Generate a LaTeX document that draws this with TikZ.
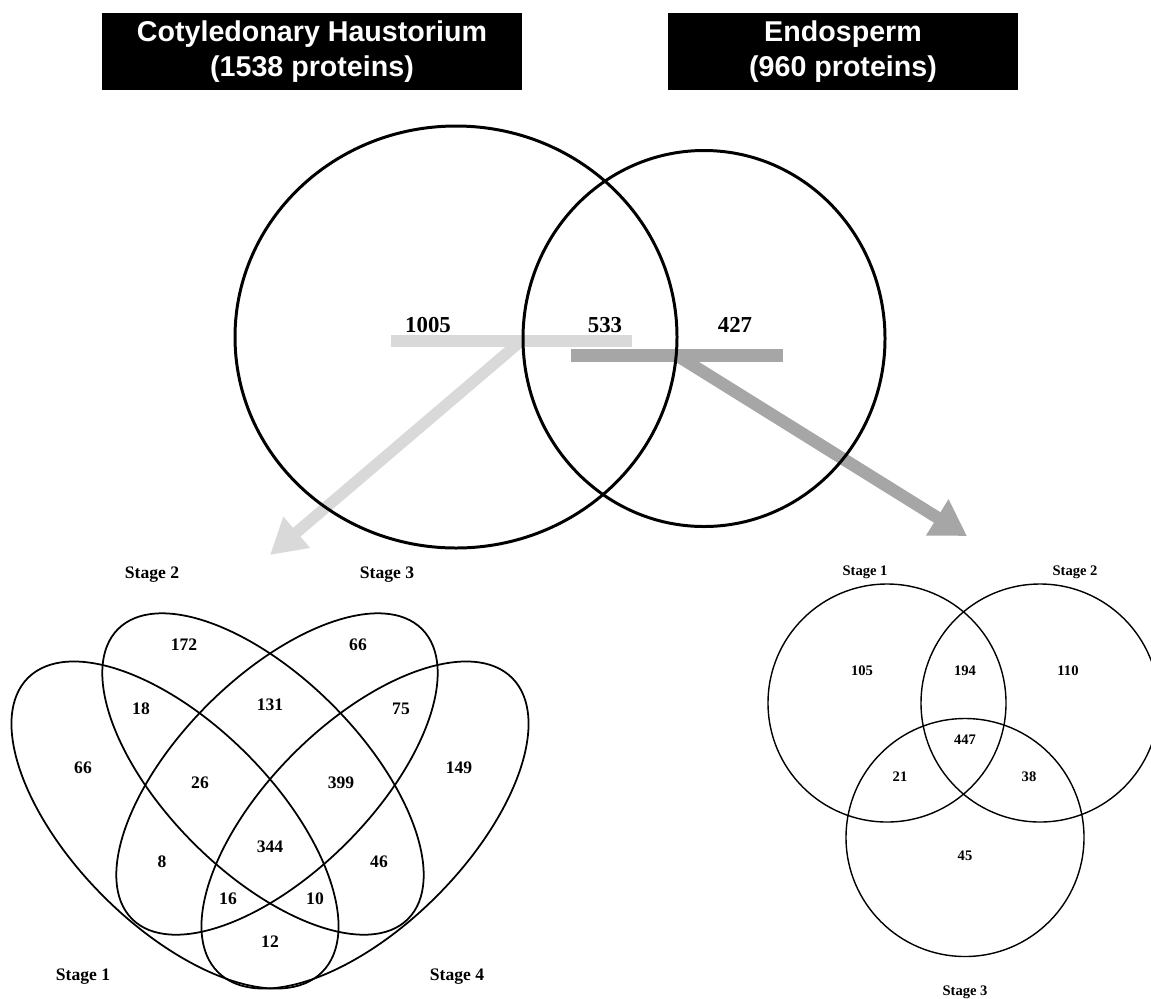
\documentclass[tikz,border=0pt]{standalone}
\usepackage{fontspec}
\setmainfont{Liberation Serif}
\newfontfamily\titlefont{Liberation Sans}
\usepackage{tikz}
\usetikzlibrary{arrows.meta,positioning,calc}
\tikzstyle{titre}=[fill=black, text=white, align=center, inner sep=0pt,
font=\titlefont\bfseries\fontsize{16.3}{19.8}\selectfont,
minimum width=8.4cm, minimum height=1.54cm]
\tikzstyle{bigcount}=[inner sep=0pt, font=\bfseries\fontsize{13}{15}\selectfont]
\tikzstyle{quadcount}=[inner sep=0pt, font=\bfseries\fontsize{10}{12}\selectfont]
\tikzstyle{tricount}=[inner sep=0pt, font=\bfseries\fontsize{8.3}{10}\selectfont]
\tikzstyle{ring}=[draw, line width=1.7pt]
\tikzstyle{oval}=[draw, line width=1pt]
\tikzstyle{disc}=[draw, line width=0.8pt]
\tikzstyle{lightbar}=[draw=black!15, line width=6.5pt]
\tikzstyle{darkbar}=[draw=black!35, line width=7pt]
\newcommand{\bignum}[2]{node (b#1)[bigcount]{#2}}
\newcommand{\quadnum}[2]{node (q#1)[quadcount]{#2}}
\newcommand{\trinum}[2]{node (t#1)[tricount]{#2}}
\begin{document}
\begin{tikzpicture}[x=0.02cm,y=-0.02cm]
		\useasboundingbox (0,0) rectangle (1151,998);
		
		% Title boxes
		\path (312,51.5) node (hau)[titre]{Cotyledonary Haustorium\\(1538 proteins)};
		\path (843,51.5) node (endo)[titre, minimum width=7cm]{Endosperm\\(960 proteins)};
		
		% Grey bars and arrows (below the circles)
		\coordinate (l1) at (391,341);
		\coordinate (l2) at (632,341);
		\coordinate (lj) at (521,341);
		\coordinate (ltip) at (270,555);
		\coordinate (d1) at (571,355.5);
		\coordinate (d2) at (783,355.5);
		\coordinate (dj) at (677,355.5);
		\coordinate (dtip) at (967,536);
		\path [lightbar] (l1) -- (l2);
		\path [lightbar,-{Triangle[length=20pt,width=22pt]}] (lj) -- (ltip);
		\path [darkbar] (d1) -- (d2);
		\path [darkbar,-{Triangle[length=20pt,width=23pt]}] (dj) -- (dtip);
		
		% Main diagram
		\coordinate (ch) at (456,337);
		\coordinate (en) at (704,338.5);
		\draw [ring] (ch) ellipse (221 and 211);
		\draw [ring] (en) ellipse (181 and 188);
		\path (428,325) \bignum{1}{1005};
		\path (605,325) \bignum{2}{533};
		\path (735,325) \bignum{3}{427};
		
		% Cotyledonary haustorium, four stages
		\coordinate (s1) at (175,825);
		\coordinate (s2) at (263,774);
		\coordinate (s3) at (277,774);
		\coordinate (s4) at (365,825);
		\draw [oval, rotate around={-45:(s1)}] (s1) ellipse (208 and 101);
		\draw [oval, rotate around={-45:(s2)}] (s2) ellipse (205 and 98);
		\draw [oval, rotate around={45:(s3)}] (s3) ellipse (205 and 98);
		\draw [oval, rotate around={45:(s4)}] (s4) ellipse (208 and 101);
		\path (152,575) \quadnum{st2}{Stage 2};
		\path (387,575) \quadnum{st3}{Stage 3};
		\path (83,977) \quadnum{st1}{Stage 1};
		\path (457,977) \quadnum{st4}{Stage 4};
		\path (184,645) \quadnum{a}{172};
		\path (358,645) \quadnum{b}{66};
		\path (141,709) \quadnum{c}{18};
		\path (270,705) \quadnum{d}{131};
		\path (401,709) \quadnum{e}{75};
		\path (83,768) \quadnum{f}{66};
		\path (200,783) \quadnum{g}{26};
		\path (341,783) \quadnum{h}{399};
		\path (459,768) \quadnum{i}{149};
		\path (270,847) \quadnum{j}{344};
		\path (162,862) \quadnum{k}{8};
		\path (379,862) \quadnum{l}{46};
		\path (228,899) \quadnum{m}{16};
		\path (315,899) \quadnum{n}{10};
		\path (270,942) \quadnum{o}{12};
		
		% Endosperm, three stages
		\coordinate (c1) at (887,703);
		\coordinate (c2) at (1040,703);
		\coordinate (c3) at (965,837.5);
		\draw [disc] (c1) circle (119);
		\draw [disc] (c2) circle (119);
		\draw [disc] (c3) circle (119);
		\path (865,572) \trinum{st1}{Stage 1};
		\path (1075,572) \trinum{st2}{Stage 2};
		\path (965,992) \trinum{st3}{Stage 3};
		\path (862,671) \trinum{a}{105};
		\path (965,671) \trinum{b}{194};
		\path (1068,671) \trinum{c}{110};
		\path (965,740) \trinum{d}{447};
		\path (900,777) \trinum{e}{21};
		\path (1029,777) \trinum{f}{38};
		\path (965,856) \trinum{g}{45};
		
\end{tikzpicture}
\end{document}
